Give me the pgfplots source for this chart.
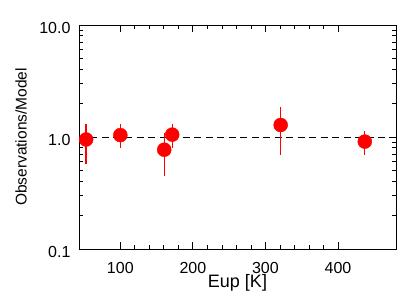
\documentclass[border=0pt]{standalone}
\usepackage{pgfplots}
\pgfplotsset{compat=1.18}
\usepackage{fontspec}
\setmainfont{Liberation Sans}
\begin{document}
\begin{tikzpicture}
\useasboundingbox (-79pt,-51pt) rectangle (341pt,249pt);
\begin{axis}[
  at={(0pt,0pt)}, anchor=south west,
  scale only axis,
  width=317pt, height=224pt,
  xmin=43, xmax=480,
  ymode=log, ymin=0.1, ymax=10,
  xtick={100,200,300,400},
  minor x tick num=4,
  ytick={0.1,1,10},
  yticklabels={0.1,1.0,10.0},
  tick align=inside,
  major tick length=7pt,
  minor tick length=4pt,
  axis line style={line width=0.9pt},
  every tick/.style={black, line width=0.8pt},
  tick label style={font=\fontsize{16}{18}\selectfont},
  xticklabel style={anchor=base, yshift=-24pt},
  yticklabel style={anchor=base east, xshift=-5pt, yshift=-8pt},
  xlabel={Eup [K]},
  ylabel={Observations/Model},
  xlabel style={font=\fontsize{18}{20}\selectfont, at={(axis description cs:0.5,-0.174)}, anchor=base},
  ylabel style={font=\fontsize{15.5}{18}\selectfont, at={(axis description cs:-0.183,0.5)}, anchor=center},
  /pgf/number format/assume math mode=true,
  clip=false,
]
\addplot[black, line width=0.9pt, dash pattern=on 7pt off 4.5pt] coordinates {(43,1) (480,1)};
\addplot[only marks, mark=*, mark size=7pt, color=red,
  error bars/.cd, y dir=both, y explicit,
  error bar style={red, line width=1.3pt}, error mark=none]
  table[x=x, y=y, y error plus=ep, y error minus=em] {
  x     y     ep    em
  52.8  0.95  0.37  0.37
  100   1.04  0.26  0.25
  160.5 0.77  0.31  0.32
  171.5 1.05  0.26  0.26
  321   1.28  0.58  0.59
  437   0.91  0.21  0.22
};
\end{axis}
\end{tikzpicture}
\end{document}
